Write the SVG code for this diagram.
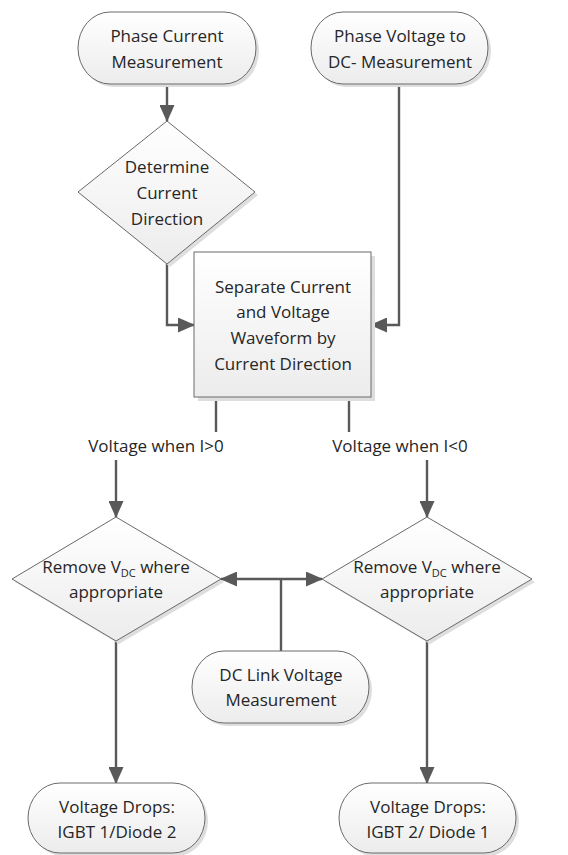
<svg xmlns="http://www.w3.org/2000/svg" width="568" height="855" viewBox="0 0 568 855">
  <defs>
    <linearGradient id="fillGrad" x1="0" y1="0" x2="0" y2="1">
      <stop offset="0" stop-color="#ffffff"/>
      <stop offset="1" stop-color="#ececec"/>
    </linearGradient>
    <marker id="arrow" markerUnits="userSpaceOnUse" markerWidth="17" markerHeight="15" viewBox="0 0 17 15" refX="16" refY="7.5" orient="auto">
      <path d="M0,0 L17,7.5 L0,15 z" fill="#595959"/>
    </marker>
  </defs>
  <style>
    .shape { fill: url(#fillGrad); stroke: #6a6a6a; stroke-width: 1; }
    .shadow { fill: #dedede; stroke: none; }
    .label { font-family: "Open Sans", "Liberation Sans", Arial, sans-serif; font-size: 17px; fill: #262626; text-anchor: middle; }
    .sub { font-size: 11px; }
    .conn { fill: none; stroke: #595959; stroke-width: 2.4; }
    .arrowed { marker-end: url(#arrow); }
  </style>
  <rect width="568" height="855" fill="#ffffff"/>

  <!-- connectors -->
  <g id="connectors">
    <path class="conn arrowed" d="M167,84 V121"/>
    <path class="conn arrowed" d="M167,264 V325 H194"/>
    <path class="conn arrowed" d="M399,84 V325 H371"/>
    <path class="conn" d="M216,397 V432"/>
    <path class="conn" d="M349,397 V432"/>
    <path class="conn arrowed" d="M116,460 V517"/>
    <path class="conn arrowed" d="M427,460 V517"/>
    <path class="conn" d="M281,651 V579"/>
    <path class="conn arrowed" d="M281,579 H221"/>
    <path class="conn arrowed" d="M281,579 H322"/>
    <path class="conn arrowed" d="M116,641 V783"/>
    <path class="conn arrowed" d="M427,641 V783"/>
  </g>

  <!-- edge labels -->
  <g id="edge-labels">
    <text class="label" x="156" y="452">Voltage when I&gt;0</text>
    <text class="label" x="400" y="452">Voltage when I&lt;0</text>
  </g>

  <g id="phase-current">
    <rect class="shadow" x="81" y="15" width="178" height="72" rx="32" ry="36"/>
    <rect class="shape" x="78" y="12" width="178" height="72" rx="32" ry="36"/>
    <text class="label" x="167" y="42">Phase Current</text>
    <text class="label" x="167" y="68">Measurement</text>
  </g>

  <g id="phase-voltage">
    <rect class="shadow" x="314" y="15" width="177" height="72" rx="32" ry="36"/>
    <rect class="shape" x="311" y="12" width="177" height="72" rx="32" ry="36"/>
    <text class="label" x="400" y="42">Phase Voltage to</text>
    <text class="label" x="400" y="68">DC- Measurement</text>
  </g>

  <g id="determine-direction">
    <polygon class="shadow" points="170,124 258,195 170,267 81,195"/>
    <polygon class="shape" points="167,121 255,192 167,264 78,192"/>
    <text class="label" x="167" y="173">Determine</text>
    <text class="label" x="167" y="199">Current</text>
    <text class="label" x="167" y="225">Direction</text>
  </g>

  <g id="separate-waveform">
    <rect class="shadow" x="198" y="256" width="177" height="145"/>
    <rect class="shape" x="194" y="252" width="177" height="145"/>
    <text class="label" x="283" y="293">Separate Current</text>
    <text class="label" x="283" y="318">and Voltage</text>
    <text class="label" x="283" y="344">Waveform by</text>
    <text class="label" x="283" y="370">Current Direction</text>
  </g>

  <g id="remove-vdc-left">
    <polygon class="shadow" points="119,520 224,582 119,644 15,582"/>
    <polygon class="shape" points="116,517 221,579 116,641 12,579"/>
    <text class="label" x="116" y="573">Remove V<tspan class="sub" dy="4">DC</tspan><tspan dy="-4"> where</tspan></text>
    <text class="label" x="116" y="598">appropriate</text>
  </g>

  <g id="remove-vdc-right">
    <polygon class="shadow" points="430,520 535,582 430,644 325,582"/>
    <polygon class="shape" points="427,517 532,579 427,641 322,579"/>
    <text class="label" x="427" y="573">Remove V<tspan class="sub" dy="4">DC</tspan><tspan dy="-4"> where</tspan></text>
    <text class="label" x="427" y="598">appropriate</text>
  </g>

  <g id="dc-link">
    <rect class="shadow" x="195" y="654" width="177" height="72" rx="32" ry="36"/>
    <rect class="shape" x="192" y="651" width="177" height="72" rx="32" ry="36"/>
    <text class="label" x="281" y="681">DC Link Voltage</text>
    <text class="label" x="281" y="706">Measurement</text>
  </g>

  <g id="drops-left">
    <rect class="shadow" x="31" y="786" width="177" height="70" rx="32" ry="35"/>
    <rect class="shape" x="28" y="783" width="177" height="70" rx="32" ry="35"/>
    <text class="label" x="117" y="813">Voltage Drops:</text>
    <text class="label" x="117" y="838">IGBT 1/Diode 2</text>
  </g>

  <g id="drops-right">
    <rect class="shadow" x="342" y="786" width="177" height="70" rx="32" ry="35"/>
    <rect class="shape" x="339" y="783" width="177" height="70" rx="32" ry="35"/>
    <text class="label" x="428" y="813">Voltage Drops:</text>
    <text class="label" x="428" y="838">IGBT 2/ Diode 1</text>
  </g>
</svg>
